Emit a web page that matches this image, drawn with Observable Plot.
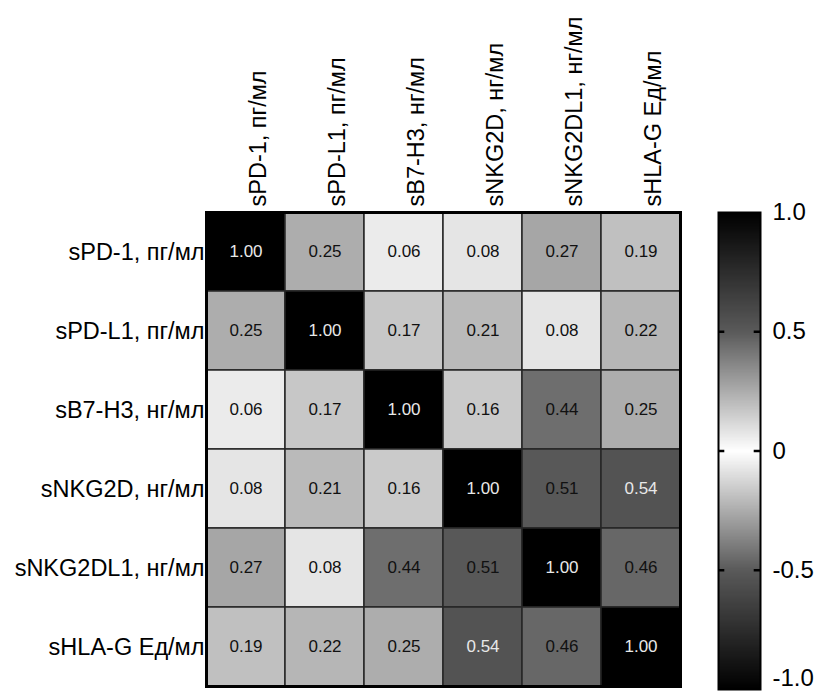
<!DOCTYPE html>
<html>
<head>
<meta charset="utf-8">
<script src="https://cdn.jsdelivr.net/npm/d3@7"></script>
<script src="https://cdn.jsdelivr.net/npm/@observablehq/plot@0.6"></script>
<style>
  body { margin: 0; background: #fff; }
  #wrap { display: flex; flex-direction: row; width: 818px; height: 695px; overflow: hidden; }
  #wrap svg { display: block; }
</style>
</head>
<body>
<div id="wrap"></div>
<script>
const labels = ["sPD-1, пг/мл", "sPD-L1, пг/мл", "sB7-H3, нг/мл", "sNKG2D, нг/мл", "sNKG2DL1, нг/мл", "sHLA-G Ед/мл"];
const row1 = [1.00, 0.25, 0.06, 0.08, 0.27, 0.19];
const row2 = [0.25, 1.00, 0.17, 0.21, 0.08, 0.22];
const row3 = [0.06, 0.17, 1.00, 0.16, 0.44, 0.25];
const row4 = [0.08, 0.21, 0.16, 1.00, 0.51, 0.54];
const row5 = [0.27, 0.08, 0.44, 0.51, 1.00, 0.46];
const row6 = [0.19, 0.22, 0.25, 0.54, 0.46, 1.00];
const colorTicksUpper = [-0.5, 0, 0.5, 1];
const colorTicksBottom = [-1];
const innerTicks = [-0.5, 0, 0.5];

const matrix = [row1, row2, row3, row4, row5, row6];
const cells = [];
matrix.forEach((row, i) => row.forEach((r, j) => cells.push({row: labels[i], col: labels[j], r})));

const font = "'Liberation Sans', Arial, sans-serif";
const colorScale = {
  type: "linear",
  domain: [-1, -0.5, 0, 0.5, 1],
  range: ["#000000", "#5a5a5a", "#ffffff", "#5a5a5a", "#000000"]
};
const fmt = d => d === 0 ? "0" : d.toFixed(1);

const main = Plot.plot({
  width: 700,
  height: 695,
  marginLeft: 206,
  marginRight: 20,
  marginTop: 212,
  marginBottom: 9,
  style: {fontFamily: font, color: "#000", background: "#fff"},
  x: {domain: labels, padding: 0, axis: null},
  y: {domain: labels, padding: 0, axis: null},
  color: colorScale,
  marks: [
    Plot.cell(cells, {x: "col", y: "row", fill: "r", stroke: "#262626", strokeWidth: 1.5, inset: 0}),
    Plot.text(cells, {x: "col", y: "row", text: d => d.r.toFixed(2), fill: d => d.r >= 0.53 ? "#e8e8e8" : "#111", fontSize: 17}),
    Plot.frame({stroke: "#000", strokeWidth: 3}),
    Plot.text(labels, {x: d => d, frameAnchor: "top", rotate: -90, textAnchor: "start", dy: -6, dx: 3, fontSize: 23.5, fill: "#000"}),
    Plot.text(labels, {y: d => d, frameAnchor: "left", textAnchor: "end", dx: -2, fontSize: 23.5, fill: "#000"})
  ]
});

const bar = Plot.plot({
  width: 118,
  height: 695,
  marginLeft: 18,
  marginRight: 58,
  marginTop: 212,
  marginBottom: 6,
  style: {fontFamily: font, color: "#000", background: "#fff", overflow: "visible"},
  x: {domain: [0, 1], axis: null},
  y: {domain: [-1, 1], axis: null},
  color: colorScale,
  marks: [
    Plot.raster({x1: 0, x2: 1, y1: -1, y2: 1, width: 1, height: 400, fill: (x, y) => y, imageRendering: "auto"}),
    Plot.ruleY(innerTicks, {y: d => d, x1: 0, x2: 0.15, stroke: "#000", strokeWidth: 2.5}),
    Plot.ruleY(innerTicks, {y: d => d, x1: 0.85, x2: 1, stroke: "#000", strokeWidth: 2.5}),
    Plot.frame({stroke: "#000", strokeWidth: 2}),
    Plot.axisY(colorTicksUpper, {anchor: "right", tickSize: 0, tickPadding: 12, fontSize: 24, tickFormat: fmt, label: null}),
    Plot.axisY(colorTicksBottom, {anchor: "right", tickSize: 0, tickPadding: 12, fontSize: 24, tickFormat: fmt, label: null, dy: -11})
  ]
});

document.getElementById("wrap").append(main, bar);
</script>
</body>
</html>
